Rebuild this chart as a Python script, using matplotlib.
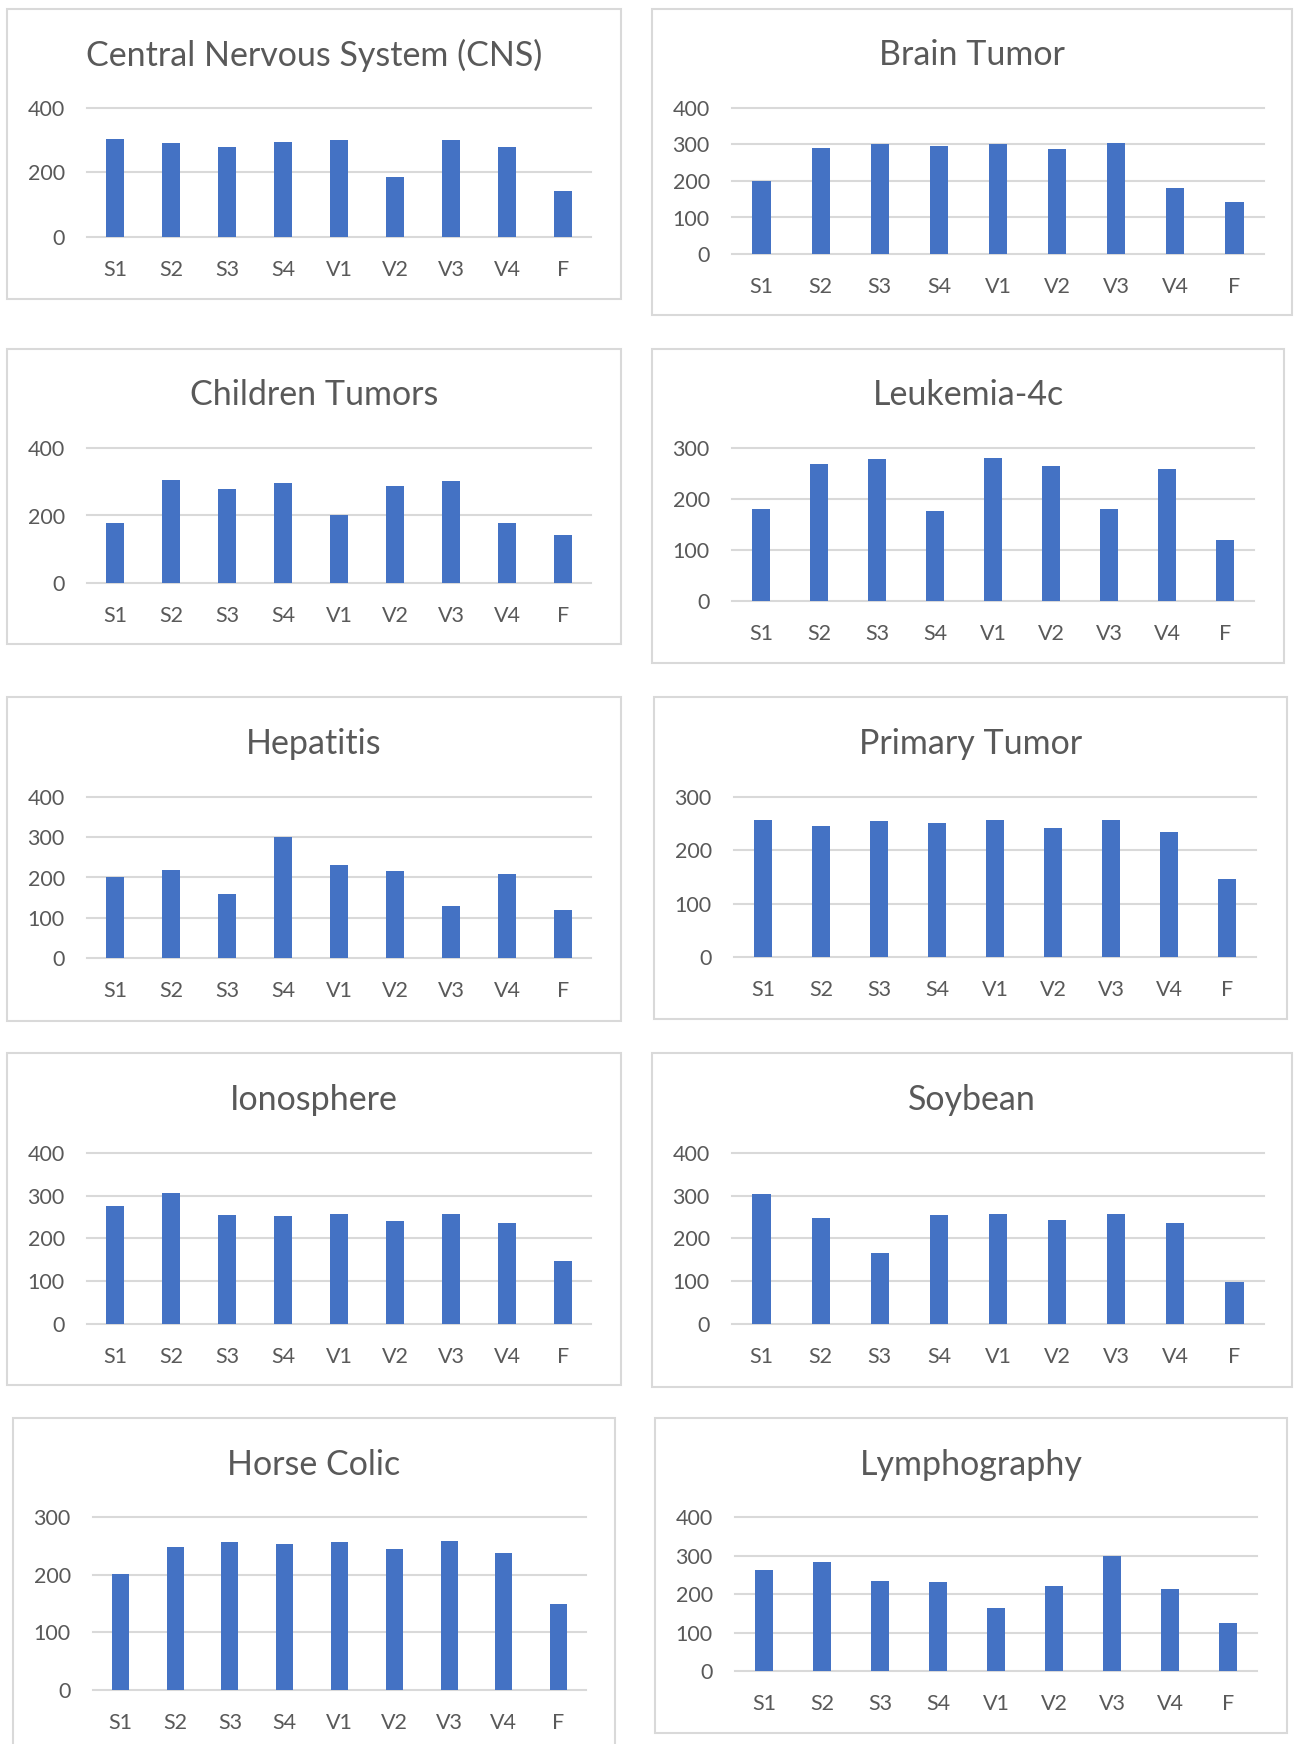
import matplotlib.pyplot as plt
from matplotlib.patches import Rectangle

plt.rcParams['font.family'] = ['Lato', 'DejaVu Sans']

categories = ['S1', 'S2', 'S3', 'S4', 'V1', 'V2', 'V3', 'V4', 'F']

cns = [304, 291, 280, 296, 302, 187, 302, 280, 142]
brain_tumor = [200, 291, 301, 297, 302, 288, 303, 181, 142]
children_tumors = [179, 304, 278, 296, 200, 286, 301, 179, 141]
leukemia_4c = [180, 269, 279, 176, 280, 265, 180, 259, 120]
hepatitis = [200, 219, 158, 300, 230, 215, 130, 209, 120]
primary_tumor = [256, 245, 255, 252, 256, 242, 256, 235, 146]
ionosphere = [277, 306, 256, 253, 257, 242, 257, 236, 147]
soybean = [303, 247, 166, 254, 258, 243, 258, 236, 98]
horse_colic = [201, 248, 257, 254, 257, 244, 259, 237, 149]
lymphography = [262, 284, 234, 231, 163, 221, 300, 214, 125]

titles = ['Central Nervous System (CNS)', 'Brain Tumor', 'Children Tumors',
          'Leukemia-4c', 'Hepatitis', 'Primary Tumor', 'Ionosphere',
          'Soybean', 'Horse Colic', 'Lymphography']
series = [cns, brain_tumor, children_tumors, leukemia_4c, hepatitis,
          primary_tumor, ionosphere, soybean, horse_colic, lymphography]
y_max = [400, 400, 400, 300, 400, 300, 400, 400, 300, 400]
y_step = [200, 100, 200, 100, 100, 100, 100, 100, 100, 100]

# pixel layout: chart box (x0, y0, x1, y1), plot area (x0, x1, y_top, y_zero), title y
W, H = 1295, 1744
boxes = [(7, 9, 621, 299), (652, 9, 1292, 315),
         (7, 349, 621, 644), (652, 349, 1284, 663),
         (7, 697, 621, 1021), (654, 697, 1287, 1019),
         (7, 1053, 621, 1385), (652, 1053, 1292, 1387),
         (13, 1418, 615, 1760), (655, 1418, 1287, 1733)]
plots = [(87, 591, 108, 237), (732, 1264, 108, 254),
         (87, 591, 448, 583), (732, 1254, 448, 601),
         (87, 591, 797, 958), (734, 1256, 797, 957),
         (87, 591, 1153, 1324), (732, 1264, 1153, 1324),
         (93, 586, 1517, 1690), (735, 1257, 1517, 1671)]
title_y = [55, 55, 395, 395, 744, 744, 1100, 1100, 1465, 1465]

BAR = '#4472C4'
GRID = '#D9D9D9'
TEXT = '#595959'

fig = plt.figure(figsize=(W / 100, H / 100), dpi=100)
fig.patch.set_facecolor('white')

for i in range(len(series)):
    bx0, by0, bx1, by1 = boxes[i]
    fig.patches.append(Rectangle((bx0 / W, 1 - by1 / H), (bx1 - bx0) / W, (by1 - by0) / H,
                                 transform=fig.transFigure, fill=False,
                                 edgecolor=GRID, linewidth=1.5))
    fig.text((bx0 + bx1) / 2 / W, 1 - title_y[i] / H, titles[i], ha='center', va='center',
             fontsize=24.5, color=TEXT)

    px0, px1, ptop, pzero = plots[i]
    ax = fig.add_axes([px0 / W, 1 - pzero / H, (px1 - px0) / W, (pzero - ptop) / H])
    ax.bar(range(len(categories)), series[i], width=0.31, color=BAR, zorder=3)
    ax.set_xlim(-0.5, len(categories) - 0.5)
    ax.set_ylim(0, y_max[i])
    ax.set_yticks(range(0, y_max[i] + 1, y_step[i]))
    ax.set_xticks(range(len(categories)))
    ax.set_xticklabels(categories)
    ax.grid(axis='y', color=GRID, linewidth=1.5, zorder=0)
    ax.set_axisbelow(True)
    for s in ax.spines.values():
        s.set_visible(False)
    ax.tick_params(axis='both', length=0, labelsize=15.5, labelcolor=TEXT)
    ax.tick_params(axis='y', pad=16)
    ax.tick_params(axis='x', pad=16.5)
    for line in ax.get_ygridlines():
        line.set_clip_on(False)

fig.savefig('out.png', dpi=100, facecolor='white')
